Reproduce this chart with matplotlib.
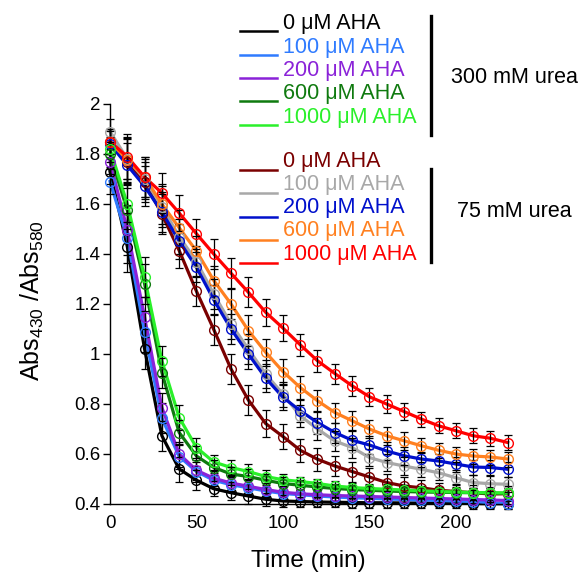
import numpy as np
import matplotlib
matplotlib.use("Agg")
import matplotlib.pyplot as plt
from matplotlib.lines import Line2D

plt.rcParams['font.family'] = ['Liberation Sans', 'DejaVu Sans']
plt.rcParams['mathtext.fontset'] = 'custom'
plt.rcParams['mathtext.rm'] = 'Liberation Sans'
plt.rcParams['mathtext.default'] = 'regular'

# time points (min)
time = list(range(0, 240, 10))

# 300 mM urea series
urea300_labels = ['0 \u03bcM AHA', '100 \u03bcM AHA', '200 \u03bcM AHA', '600 \u03bcM AHA', '1000 \u03bcM AHA']
urea300_colors = ['#000000', '#2f7bff', '#8a22d8', '#0f7a0f', '#2af02a']
aha0_300 = [1.73, 1.43, 1.02, 0.673, 0.54, 0.495, 0.461, 0.445, 0.432, 0.419, 0.412, 0.41,
            0.408, 0.407, 0.406, 0.405, 0.405, 0.404, 0.404, 0.403, 0.403, 0.402, 0.401, 0.401]
aha100_300 = [1.69, 1.465, 1.09, 0.744, 0.59, 0.53, 0.495, 0.477, 0.465, 0.452, 0.442, 0.437,
              0.432, 0.428, 0.425, 0.423, 0.42, 0.418, 0.416, 0.414, 0.412, 0.41, 0.405, 0.40]
aha200_300 = [1.77, 1.497, 1.147, 0.786, 0.60, 0.535, 0.503, 0.484, 0.471, 0.458, 0.447, 0.441,
              0.437, 0.434, 0.432, 0.43, 0.428, 0.426, 0.424, 0.422, 0.42, 0.418, 0.416, 0.414]
aha600_300 = [1.80, 1.575, 1.281, 0.926, 0.686, 0.592, 0.546, 0.52, 0.51, 0.495, 0.482, 0.475,
              0.468, 0.462, 0.458, 0.455, 0.452, 0.45, 0.448, 0.447, 0.446, 0.445, 0.444, 0.443]
aha1000_300 = [1.82, 1.60, 1.307, 0.973, 0.746, 0.626, 0.568, 0.546, 0.53, 0.51, 0.497, 0.49,
               0.482, 0.472, 0.466, 0.462, 0.459, 0.456, 0.453, 0.45, 0.448, 0.446, 0.445, 0.444]
err300 = [0.05, 0.10, 0.08, 0.06, 0.05, 0.04, 0.03, 0.03, 0.03, 0.025, 0.025, 0.02,
          0.02, 0.02, 0.02, 0.02, 0.02, 0.02, 0.02, 0.02, 0.02, 0.02, 0.02, 0.02]

# 75 mM urea series
urea75_labels = ['0 \u03bcM AHA', '100 \u03bcM AHA', '200 \u03bcM AHA', '600 \u03bcM AHA', '1000 \u03bcM AHA']
urea75_colors = ['#7a0000', '#a8a8a8', '#0010cc', '#ff8020', '#ff0000']
aha0_75 = [1.85, 1.77, 1.69, 1.559, 1.414, 1.251, 1.098, 0.94, 0.816, 0.722, 0.67, 0.615,
           0.579, 0.552, 0.53, 0.508, 0.486, 0.472, 0.465, 0.455, 0.45, 0.445, 0.44, 0.441]
aha100_75 = [1.89, 1.78, 1.70, 1.59, 1.47, 1.37, 1.24, 1.12, 1.02, 0.92, 0.84, 0.753,
             0.70, 0.652, 0.626, 0.586, 0.566, 0.552, 0.539, 0.525, 0.505, 0.486, 0.481, 0.479]
aha200_75 = [1.84, 1.755, 1.671, 1.568, 1.452, 1.347, 1.217, 1.10, 1.00, 0.904, 0.827, 0.773,
             0.726, 0.686, 0.655, 0.636, 0.612, 0.593, 0.58, 0.572, 0.56, 0.548, 0.546, 0.539]
aha600_75 = [1.85, 1.776, 1.708, 1.60, 1.505, 1.412, 1.294, 1.20, 1.094, 1.007, 0.93, 0.866,
             0.813, 0.766, 0.733, 0.70, 0.673, 0.653, 0.633, 0.615, 0.60, 0.592, 0.588, 0.58]
aha1000_75 = [1.85, 1.789, 1.708, 1.644, 1.564, 1.481, 1.40, 1.323, 1.247, 1.167, 1.104, 1.037,
              0.973, 0.922, 0.873, 0.829, 0.80, 0.77, 0.74, 0.713, 0.693, 0.673, 0.663, 0.646]
err75 = [0.05, 0.09, 0.08, 0.08, 0.07, 0.06, 0.06, 0.06, 0.06, 0.055, 0.05, 0.045,
         0.045, 0.04, 0.04, 0.035, 0.035, 0.035, 0.03, 0.03, 0.03, 0.03, 0.03, 0.03]

series300 = [aha0_300, aha100_300, aha200_300, aha600_300, aha1000_300]
series75 = [aha0_75, aha100_75, aha200_75, aha600_75, aha1000_75]

W, H = 586, 574
fig = plt.figure(figsize=(W / 100, H / 100), dpi=100)


def px(x, y):
    return x / W, 1 - y / H


ax = fig.add_axes([110 / W, 1 - 504 / H, (512 - 110) / W, (504 - 104) / H])

# draw 75 mM group then 300 mM group
for vals, col, err in ([(v, c, err75) for v, c in zip(series75, urea75_colors)] +
                       [(v, c, err300) for v, c in zip(series300, urea300_colors)]):
    ax.plot(time, vals, color=col, lw=2.3, zorder=2, clip_on=False)
    ax.errorbar(time, vals, yerr=err, fmt='none', ecolor='black', elinewidth=0.9,
                capsize=3, capthick=0.9, zorder=3, clip_on=False)
    ax.plot(time, vals, 'o', mfc='none', mec=col, ms=7, mew=1.0, zorder=4, clip_on=False)

ax.set_xlim(0, 232.5)
ax.set_ylim(0.4, 2.0)
ax.set_xticks([0, 50, 100, 150, 200])
ax.set_yticks([0.4, 0.6, 0.8, 1.0, 1.2, 1.4, 1.6, 1.8, 2.0])
ax.set_yticklabels(['0.4', '0.6', '0.8', '1', '1.2', '1.4', '1.6', '1.8', '2'])
ax.tick_params(axis='y', direction='out', length=5, width=1, pad=2, labelsize=13.5)
ax.tick_params(axis='x', length=0, pad=8, labelsize=13.5)
for s in ['top', 'right']:
    ax.spines[s].set_visible(False)
for s in ['left', 'bottom']:
    ax.spines[s].set_linewidth(1)

fig.text(*px(308, 561), 'Time (min)', ha='center', va='center', fontsize=17.5)
fig.text(*px(32, 301), 'Abs$_{430}$ /Abs$_{580}$', ha='center', va='center',
         rotation=90, fontsize=18)

# legend, 300 mM urea group
base300 = [29.3, 52.6, 76, 99.3, 122.6]
for lab, col, yb in zip(urea300_labels, urea300_colors, base300):
    fig.add_artist(Line2D([240 / W, 277 / W], [1 - (yb + 2) / H] * 2, color=col, lw=1.8,
                          transform=fig.transFigure))
    fig.text(*px(283, yb), lab, color=col, fontsize=15.5, ha='left', va='baseline')
fig.add_artist(Line2D([431 / W] * 2, [1 - 16 / H, 1 - 135 / H], color='black', lw=2.4,
                      transform=fig.transFigure))
fig.text(*px(451, 83.3), '300 mM urea', fontsize=15.5, ha='left', va='baseline')

# legend, 75 mM urea group
base75 = [166.7, 189.8, 213.3, 236.3, 259.8]
for lab, col, yb in zip(urea75_labels, urea75_colors, base75):
    fig.add_artist(Line2D([240 / W, 277 / W], [1 - (yb + 3.5) / H] * 2, color=col, lw=1.8,
                          transform=fig.transFigure))
    fig.text(*px(283, yb), lab, color=col, fontsize=15.5, ha='left', va='baseline')
fig.add_artist(Line2D([431 / W] * 2, [1 - 169 / H, 1 - 262 / H], color='black', lw=2.4,
                      transform=fig.transFigure))
fig.text(*px(457, 217.3), '75 mM urea', fontsize=15.5, ha='left', va='baseline')

fig.savefig('out.png', dpi=100)
